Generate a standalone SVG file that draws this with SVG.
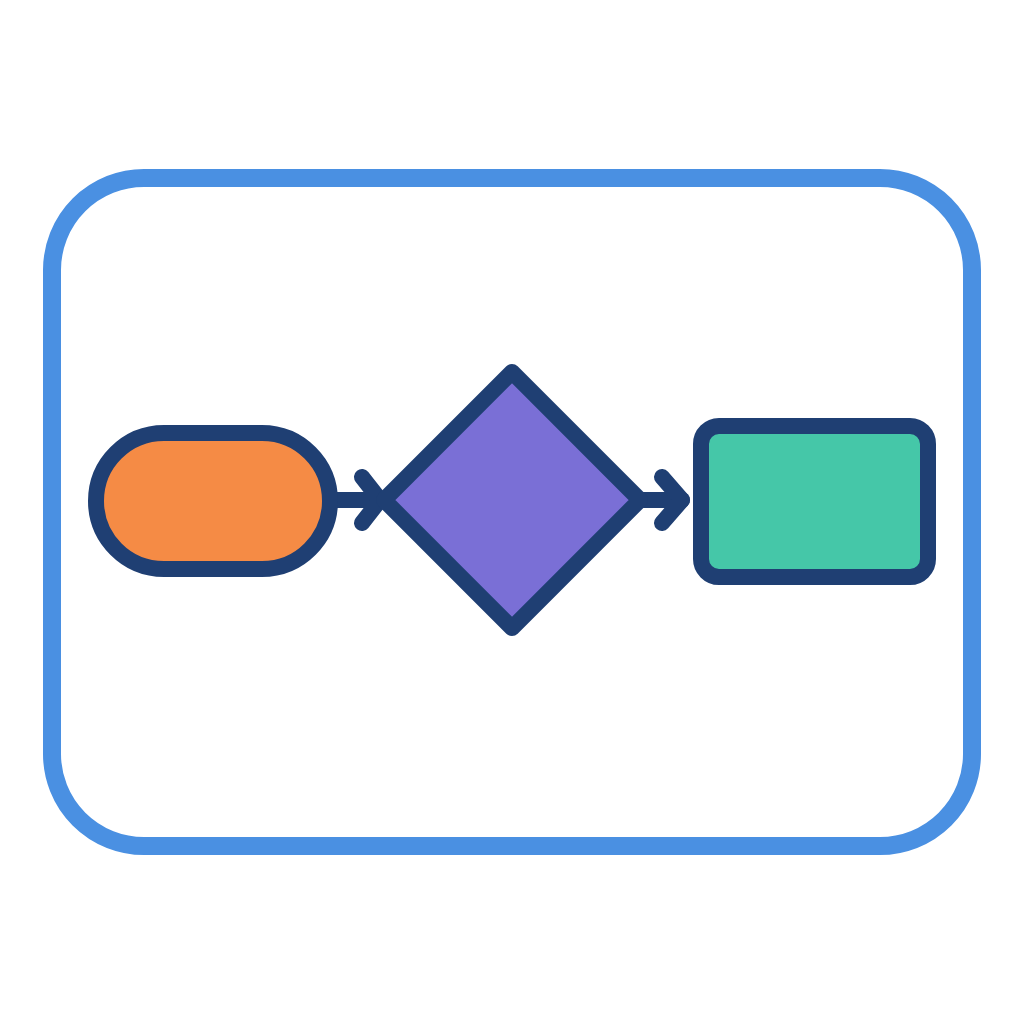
<svg xmlns="http://www.w3.org/2000/svg" width="1024" height="1024" viewBox="0 0 1024 1024">
<defs>
<style>
.shape{stroke:#1F3F73;stroke-width:16;stroke-linejoin:round}
.conn{fill:none;stroke:#1F3F73;stroke-width:16;stroke-linecap:round;stroke-linejoin:round}
</style>
</defs>
<rect width="1024" height="1024" fill="#FFFFFF"/>
<g id="frame">
<rect x="52" y="178" width="920" height="668" rx="92" ry="92" fill="none" stroke="#4A90E2" stroke-width="18"/>
</g>
<g id="connectors">
<path class="conn" d="M330 500 H378"/>
<path class="conn" d="M362 477 L380 500 L362 523"/>
<path class="conn" d="M640 500 H682"/>
<path class="conn" d="M662 477 L682 500 L662 523"/>
</g>
<g id="start">
<rect class="shape" x="96" y="433" width="234" height="136" rx="68" ry="68" fill="#F58B45"/>
</g>
<g id="decision">
<polygon class="shape" points="512,372 640,500 512,628 384,500" fill="#7A6FD6"/>
</g>
<g id="process">
<rect class="shape" x="701" y="426" width="227" height="151" rx="18" ry="18" fill="#45C7A8"/>
</g>
</svg>
